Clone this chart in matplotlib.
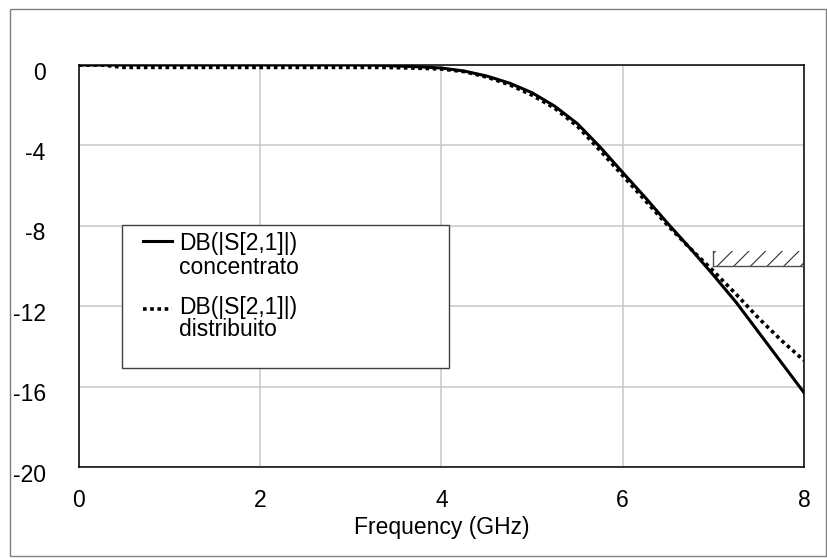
#!/usr/bin/env python3
"""Plot |S21| in dB of the lumped and distributed filter versions"""

import matplotlib
matplotlib.use('Agg')
import matplotlib.pyplot as plt
from matplotlib.patches import Rectangle
from matplotlib.lines import Line2D
from matplotlib.transforms import ScaledTranslation

FREQ_GHZ = [0, 0.25, 0.5, 1, 1.5, 2, 2.5, 3, 3.3, 3.5, 3.75, 4, 4.25, 4.5, 4.75,
            5, 5.25, 5.5, 5.75, 6, 6.25, 6.5, 6.75, 7, 7.25, 7.5, 7.75, 8]

# DB(|S[2,1]|) concentrato
S21_LUMPED = [0, 0, 0, 0, 0, 0, 0, 0, -0.01, -0.05, -0.09, -0.15, -0.3, -0.55, -0.9,
              -1.38, -2.05, -2.92, -4.08, -5.35, -6.6, -7.9, -9.15, -10.45, -11.8,
              -13.3, -14.8, -16.3]

# DB(|S[2,1]|) distribuito
S21_DISTRIBUTED = [0, 0, -0.12, -0.12, -0.12, -0.12, -0.12, -0.12, -0.12, -0.13, -0.16,
                   -0.2, -0.33, -0.6, -0.98, -1.5, -2.15, -3.05, -4.25, -5.5, -6.75,
                   -8.0, -9.15, -10.25, -11.4, -12.6, -13.7, -14.7]

LABELS = ['DB(|S[2,1]|)\nconcentrato', 'DB(|S[2,1]|)\ndistribuito']

# stopband spec: at least 10 dB of rejection from 7 GHz on
SPEC_FREQ = [7, 8]
SPEC_LEVEL = -10
SPEC_HATCH = 0.75

X_TICKS = [0, 2, 4, 6, 8]
Y_TICKS = [0, -4, -8, -12, -16, -20]

FONT_SIZE = 16.5


def draw_legend(axis, styles):
    """Hand made legend box, the auto legend can't give this much padding"""
    axis.add_patch(Rectangle((0.059, 0.246), 0.451, 0.356, transform=axis.transAxes,
                             facecolor='white', edgecolor='#404040', lw=1.0, zorder=5))
    rows = [(0.5622, 0.5572, 0.4975), (0.393, 0.398, 0.3408)]
    for (line_y, first_y, second_y), label, style in zip(rows, LABELS, styles):
        axis.add_line(Line2D([0.0883, 0.1283], [line_y, line_y], transform=axis.transAxes,
                             color='black', zorder=6, **style))
        first, second = label.split('\n')
        axis.text(0.1379, first_y, first, transform=axis.transAxes, ha='left',
                  va='center', fontsize=FONT_SIZE, zorder=6)
        axis.text(0.1379, second_y, second, transform=axis.transAxes, ha='left',
                  va='center', fontsize=FONT_SIZE, zorder=6)


def main():
    """Main program entry point"""
    plt.rcParams['font.family'] = ['Liberation Sans', 'DejaVu Sans']
    plt.rcParams['hatch.linewidth'] = 0.8

    fig = plt.figure(figsize=(8.28, 5.58), dpi=100)
    axis = fig.add_axes([0.0954, 0.1631, 0.8756, 0.7204])

    # thin frame around the whole picture
    fig.add_artist(Rectangle((10 / 828, 2 / 558), 816 / 828, 547 / 558,
                             transform=fig.transFigure, fill=False,
                             edgecolor='#808080', lw=1.0))

    solid_style = {'lw': 2.2, 'ls': '-'}
    dotted_style = {'lw': 2.6, 'ls': (0, (1, 1))}

    axis.plot(FREQ_GHZ, S21_LUMPED, color='black', zorder=4, **solid_style)
    axis.plot(FREQ_GHZ, S21_DISTRIBUTED, color='black', zorder=4, **dotted_style)

    # spec mask
    axis.fill_between(SPEC_FREQ, SPEC_LEVEL, SPEC_LEVEL + SPEC_HATCH, hatch='//',
                      facecolor='none', edgecolor='#303030', linewidth=0, zorder=3)
    axis.plot(SPEC_FREQ, [SPEC_LEVEL, SPEC_LEVEL], color='#505050', lw=1.0, zorder=3)
    axis.plot([SPEC_FREQ[0], SPEC_FREQ[0]], [SPEC_LEVEL, SPEC_LEVEL + SPEC_HATCH],
              color='#505050', lw=1.0, zorder=3)

    axis.set_xlim(0, 8)
    axis.set_ylim(-20, 0)
    axis.set_xticks(X_TICKS)
    axis.set_xticklabels([str(t) for t in X_TICKS])
    axis.set_yticks(Y_TICKS)
    axis.set_yticklabels([str(t) for t in Y_TICKS])
    axis.tick_params(axis='both', length=0, labelsize=FONT_SIZE)
    axis.tick_params(axis='x', pad=16)
    axis.tick_params(axis='y', pad=24)
    axis.grid(True, color='#c8c8c8', lw=1.1)
    axis.set_axisbelow(True)
    for spine in axis.spines.values():
        spine.set_color('black')
        spine.set_linewidth(1.1)

    # y labels sit a bit below their grid line
    offset = ScaledTranslation(0, -4 / 72, fig.dpi_scale_trans)
    for label in axis.get_yticklabels():
        label.set_transform(label.get_transform() + offset)

    axis.set_xlabel('Frequency (GHz)', fontsize=FONT_SIZE, labelpad=3)

    draw_legend(axis, [solid_style, dotted_style])

    fig.savefig('out.png', dpi=100)


if __name__ == '__main__':
    main()
